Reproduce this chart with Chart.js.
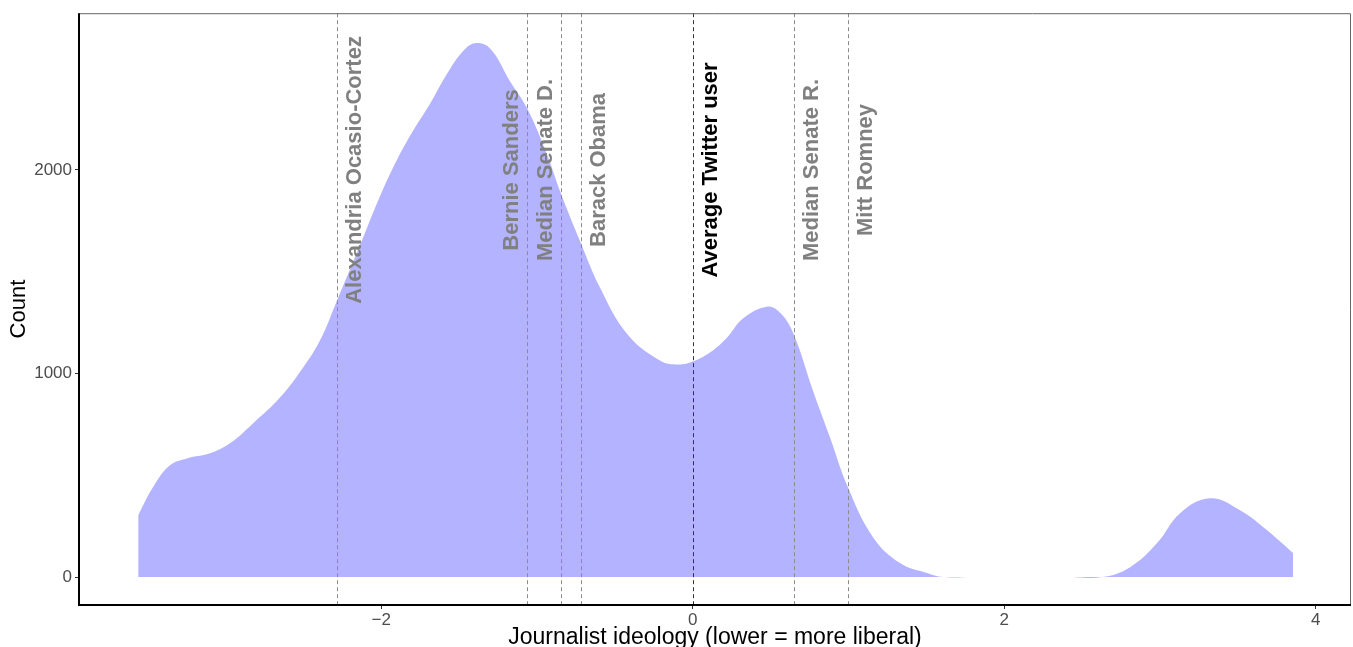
<!DOCTYPE html>
<html>
<head>
<meta charset="utf-8">
<script src="https://cdn.jsdelivr.net/npm/chart.js@4.4.1/dist/chart.umd.min.js"></script>
<style>
  html, body { margin: 0; padding: 0; background: #fff; }
  #wrap { width: 1353px; height: 647px; }
</style>
</head>
<body>
<div id="wrap"><canvas id="densityChart" width="1353" height="647"></canvas></div>
<script>
// density curve
const ideology = [-3.56, -3.465, -3.356, -3.247, -3.099, -2.971, -2.823, -2.65, -2.502, -2.393, -2.284,
  -2.136, -2.008, -1.898, -1.796, -1.687, -1.578, -1.475, -1.398, -1.302, -1.173, -1.064,
  -0.936, -0.852, -0.724, -0.595, -0.422, -0.21, -0.094, 0.002, 0.111, 0.22, 0.323, 0.477,
  0.561, 0.644, 0.772, 0.882, 0.997, 1.158, 1.331, 1.504, 1.607, 1.8, 2.4, 2.63,
  2.809, 2.982, 3.13, 3.322, 3.515, 3.688, 3.855];
const counts = [304, 441, 549, 583, 608, 657, 755, 882, 1029, 1162, 1358,
  1630, 1870, 2050, 2191, 2324, 2471, 2583, 2623, 2598, 2436, 2304,
  2078, 1897, 1652, 1422, 1196, 1064, 1044, 1059, 1103, 1176, 1270, 1328,
  1299, 1201, 917, 686, 441, 196, 69, 20, 0, 0, 0, 0,
  49, 167, 314, 387, 328, 230, 118];

// reference people
const refNames = ["Alexandria Ocasio-Cortez", "Bernie Sanders", "Median Senate D.", "Barack Obama",
  "Average Twitter user", "Median Senate R.", "Mitt Romney"];
const refScores = [-2.284, -1.064, -0.846, -0.717, 0, 0.65, 0.997];
const labelCount = 2000;

const xTicks = [-2, 0, 2, 4];
const xTickLabels = ["\u22122", "0", "2", "4"];
const yTicks = [0, 1000, 2000];
const yTickLabels = ["0", "1000", "2000"];

const points = ideology.map((x, i) => ({ x: x, y: counts[i] }));

// which labels sit left of their line
const leftSide = ["Bernie Sanders", "Median Senate D."];

const refLines = {
  id: "refLines",
  afterDatasetsDraw(chart) {
    const ctx = chart.ctx;
    const xs = chart.scales.x, ys = chart.scales.y;
    const area = chart.chartArea;
    ctx.save();
    refNames.forEach((name, i) => {
      const px = Math.round(xs.getPixelForValue(refScores[i])) + 0.5;
      const isAvg = name === "Average Twitter user";
      ctx.strokeStyle = isAvg ? "#333333" : "#8c8c8c";
      ctx.lineWidth = 1;
      ctx.setLineDash([4, 3]);
      ctx.beginPath();
      ctx.moveTo(px, area.top);
      ctx.lineTo(px, area.bottom);
      ctx.stroke();

      const off = leftSide.includes(name) ? -16 : 17;
      ctx.setLineDash([]);
      ctx.translate(px + off, ys.getPixelForValue(labelCount));
      ctx.rotate(-Math.PI / 2);
      ctx.font = "bold 22px 'Liberation Sans', Arial, sans-serif";
      ctx.fillStyle = isAvg ? "#000000" : "#808080";
      ctx.textAlign = "center";
      ctx.textBaseline = "middle";
      ctx.fillText(name, 0, 0);
      ctx.setTransform(1, 0, 0, 1, 0, 0);
    });
    ctx.restore();
  },
  afterDraw(chart) {
    const ctx = chart.ctx;
    const a = chart.chartArea;
    ctx.save();
    // panel border
    ctx.strokeStyle = "#666666";
    ctx.lineWidth = 1;
    ctx.beginPath();
    ctx.moveTo(a.left, a.top + 0.5);
    ctx.lineTo(a.right - 0.5, a.top + 0.5);
    ctx.lineTo(a.right - 0.5, a.bottom);
    ctx.stroke();
    // axis lines
    ctx.strokeStyle = "#000000";
    ctx.lineWidth = 2;
    ctx.beginPath();
    ctx.moveTo(a.left, a.top);
    ctx.lineTo(a.left, a.bottom);
    ctx.lineTo(a.right, a.bottom);
    ctx.stroke();
    ctx.restore();
  }
};

new Chart(document.getElementById("densityChart"), {
  type: "scatter",
  data: {
    datasets: [{
      data: points,
      showLine: true,
      fill: "origin",
      backgroundColor: "#b3b3ff",
      borderWidth: 0,
      borderColor: "rgba(0,0,0,0)",
      pointRadius: 0,
      tension: 0.4,
    }],
  },
  options: {
    responsive: false,
    animation: false,
    layout: { padding: { top: 12, right: 2, left: 0, bottom: -4 } },
    plugins: { legend: { display: false }, tooltip: { enabled: false } },
    scales: {
      x: {
        type: "linear",
        min: -3.94,
        max: 4.227,
        afterFit: (s) => { s.height = 46; },
        afterBuildTicks: (s) => { s.ticks = xTicks.map(v => ({ value: v })); },
        border: { display: false },
        grid: { drawOnChartArea: false, drawTicks: true, tickLength: 4, color: "#333333" },
        ticks: {
          padding: 1,
          color: "#4d4d4d",
          font: { family: "'Liberation Sans', Arial, sans-serif", size: 17 },
          maxRotation: 0,
          callback: (v) => { const k = xTicks.indexOf(v); return k >= 0 ? xTickLabels[k] : ""; },
        },
        title: {
          display: true,
          text: "Journalist ideology (lower = more liberal)",
          color: "#000000",
          font: { family: "'Liberation Sans', Arial, sans-serif", size: 23 },
          padding: { top: 0, bottom: 0 },
        },
      },
      y: {
        type: "linear",
        min: -137,
        max: 2770,
        afterFit: (s) => { s.width = 79; },
        afterBuildTicks: (s) => { s.ticks = yTicks.map(v => ({ value: v })); },
        border: { display: false },
        grid: { drawOnChartArea: false, drawTicks: true, tickLength: 4, color: "#333333" },
        ticks: {
          padding: 3,
          color: "#4d4d4d",
          font: { family: "'Liberation Sans', Arial, sans-serif", size: 17 },
          callback: (v) => { const k = yTicks.indexOf(v); return k >= 0 ? yTickLabels[k] : ""; },
        },
        title: {
          display: true,
          text: "Count",
          color: "#000000",
          font: { family: "'Liberation Sans', Arial, sans-serif", size: 22 },
          padding: { top: 6, bottom: 0 },
        },
      },
    },
  },
  plugins: [refLines],
});
</script>
</body>
</html>
